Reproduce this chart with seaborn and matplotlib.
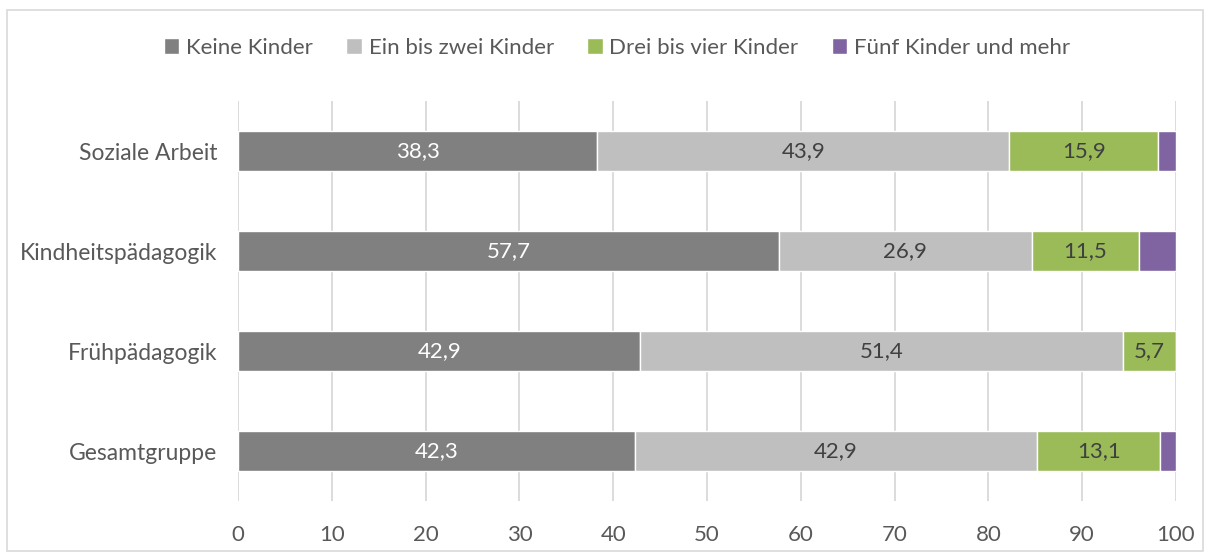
import matplotlib
matplotlib.use("Agg")
import matplotlib.pyplot as plt
import seaborn as sns
import pandas as pd
import numpy as np
from matplotlib.patches import Rectangle

categories = ["Soziale Arbeit", "Kindheitspädagogik", "Frühpädagogik", "Gesamtgruppe"]
series_names = ["Keine Kinder", "Ein bis zwei Kinder", "Drei bis vier Kinder", "Fünf Kinder und mehr"]
keine = [38.3, 57.7, 42.9, 42.3]
ein_zwei = [43.9, 26.9, 51.4, 42.9]
drei_vier = [15.9, 11.5, 5.7, 13.1]
fuenf = [1.9, 3.9, 0.0, 1.7]
colors = ["#808080", "#BFBFBF", "#9BBB59", "#8064A2"]
label_colors = ["white", "#404040", "#404040", None]
xticks = [0, 10, 20, 30, 40, 50, 60, 70, 80, 90, 100]

sns.set_theme(style="white")
plt.rcParams['font.family'] = ['Lato', 'DejaVu Sans']

fig = plt.figure(figsize=(12.10, 5.57), dpi=100)
ax = fig.add_axes([238/1210, 1-501/557, (1176-238)/1210, 400/557])

fig.patches.append(Rectangle((7/1210, 6/557), 1196/1210, 541/557, transform=fig.transFigure,
                             fill=False, edgecolor="#D9D9D9", linewidth=1.2))

values = [keine, ein_zwei, drei_vier, fuenf]
left = np.zeros(len(categories))
for name, vals, col, lc in zip(series_names, values, colors, label_colors):
    df = pd.DataFrame({"cat": categories, "val": vals})
    sns.barplot(data=df, y="cat", x="val", left=left, color=col, width=0.4,
                ax=ax, label=name, saturation=1, orient="h")
    if lc is not None:
        for i, v in enumerate(vals):
            if v > 0:
                ax.text(left[i] + v / 2, i, f"{v:.1f}".replace(".", ","), ha="center", va="center",
                        color=lc, fontsize=16)
    left = left + np.array(vals)

handles, labels = ax.get_legend_handles_labels()
if ax.get_legend() is not None:
    ax.get_legend().remove()

ax.set_xlim(0, 100)
ax.set_ylim(3.5, -0.5)
ax.set_xticks(xticks)
ax.set_xticklabels([str(t) for t in xticks])
ax.xaxis.grid(True, color="#D9D9D9", linewidth=1.3)
ax.set_axisbelow(True)
for s in ax.spines.values():
    s.set_visible(False)
ax.set_xlabel("")
ax.set_ylabel("")
ax.tick_params(axis="x", length=0, pad=17, labelsize=16, labelcolor="#595959")
ax.tick_params(axis="y", length=0, pad=15, labelsize=16.5, labelcolor="#595959")

fig.legend(handles, labels, loc="center", bbox_to_anchor=(617/1210, 1-48/557), ncol=4,
           frameon=False, fontsize=16, handlelength=0.7, handleheight=0.7,
           handletextpad=0.3, columnspacing=1.5, labelcolor="#595959")

fig.savefig("out.png", dpi=100)
